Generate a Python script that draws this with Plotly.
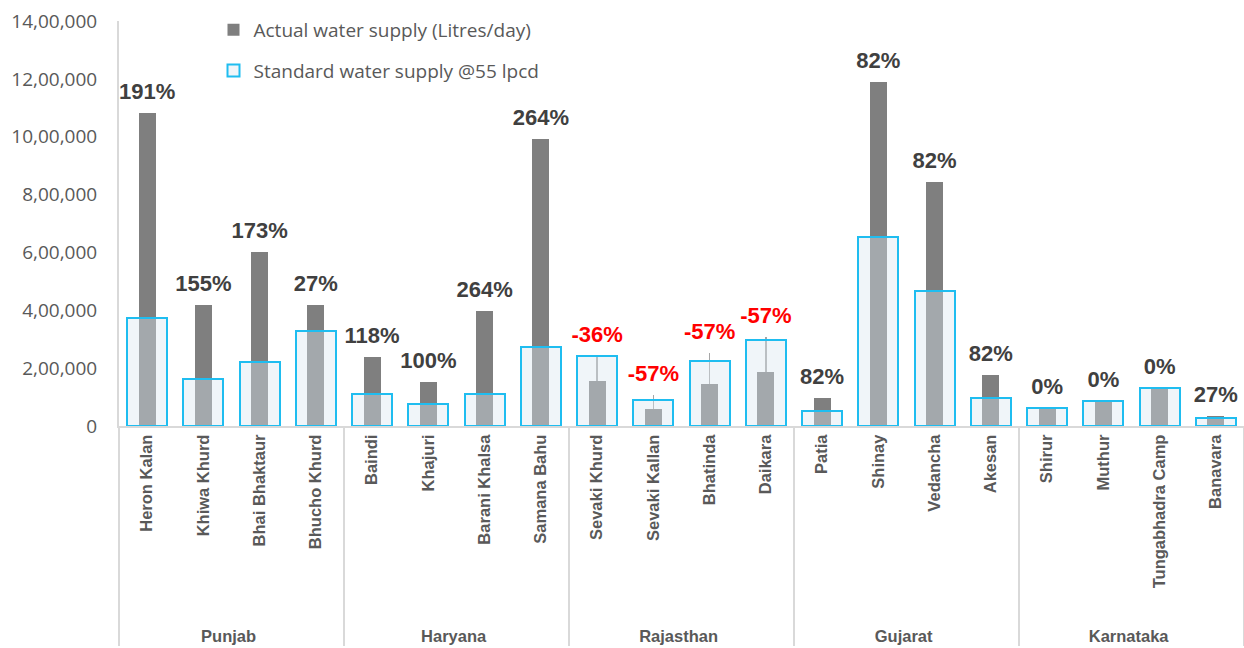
import plotly.graph_objects as go

# States and villages (the leading line break drops the state names below the village names)
states = ["<br>Punjab"] * 4 + ["<br>Haryana"] * 4 + ["<br>Rajasthan"] * 4 + ["<br>Gujarat"] * 4 + ["<br>Karnataka"] * 4
villages = [
    "Heron Kalan", "Khiwa Khurd", "Bhai Bhaktaur", "Bhucho Khurd",
    "Baindi", "Khajuri", "Barani Khalsa", "Samana Bahu",
    "Sevaki Khurd", "Sevaki Kallan", "Bhatinda", "Daikara",
    "Patia", "Shinay", "Vedancha", "Akesan",
    "Shirur", "Muthur", "Tungabhadra Camp", "Banavara",
]

# Litres/day
actual_supply = [
    1083000, 418000, 600000, 417000,
    238000, 152000, 397000, 993000,
    155000, 58000, 144000, 187000,
    97000, 1190000, 845000, 176000,
    62000, 85000, 131000, 34000,
]
standard_supply = [
    372000, 164000, 220000, 328000,
    109000, 76000, 109000, 272000,
    242000, 90000, 224000, 297000,
    53000, 655000, 466000, 97000,
    62000, 85000, 131000, 27000,
]
# upward range whiskers on the actual bars (Rajasthan only)
actual_range_plus = [
    0, 0, 0, 0,
    0, 0, 0, 0,
    87000, 49000, 110000, 121000,
    0, 0, 0, 0,
    0, 0, 0, 0,
]
gap_labels = [
    "191%", "155%", "173%", "27%",
    "118%", "100%", "264%", "264%",
    "-36%", "-57%", "-57%", "-57%",
    "82%", "82%", "82%", "82%",
    "0%", "0%", "0%", "27%",
]

y_tickvals = [0, 200000, 400000, 600000, 800000, 1000000, 1200000, 1400000]
y_ticktext = ["0", "2,00,000", "4,00,000", "6,00,000", "8,00,000", "10,00,000", "12,00,000", "14,00,000"]

x = [states, villages]
label_y = [max(a, s, a + p) for a, s, p in zip(actual_supply, standard_supply, actual_range_plus)]
label_colors = ["#ff0000" if t.startswith("-") else "#404040" for t in gap_labels]

fig = go.Figure()
fig.add_trace(go.Bar(
    x=x, y=actual_supply, name="Actual water supply (Litres/day)",
    width=0.3, marker=dict(color="#7f7f7f", line=dict(width=0)),
    error_y=dict(type="data", symmetric=False, array=actual_range_plus,
                 arrayminus=[0] * len(actual_supply), color="#a6a6a6",
                 thickness=1.5, width=0),
    legendgroup="a",
))
fig.add_trace(go.Bar(
    x=x, y=standard_supply, name="Standard water supply @55 lpcd",
    width=0.71, marker=dict(color="rgba(218,230,241,0.4)",
                            line=dict(color="#1fbdf0", width=2)),
    legendgroup="b",
))
fig.add_trace(go.Scatter(
    x=x, y=label_y, mode="markers+text", text=gap_labels, textposition="top center",
    marker=dict(size=12, opacity=0),
    textfont=dict(family="Liberation Sans", size=22, color=label_colors, weight="bold"),
    showlegend=False, hoverinfo="skip", cliponaxis=False,
))

fig.update_layout(
    width=1244, height=648,
    margin=dict(l=119, r=0, t=21, b=222),
    plot_bgcolor="white", paper_bgcolor="white",
    barmode="overlay", bargap=0,
    font=dict(family="Liberation Sans", color="#595959"),
    showlegend=True,
    legend=dict(x=0.084, y=1.025, xanchor="left", yanchor="top",
                font=dict(family="Open Sans", size=19, color="#595959"),
                tracegroupgap=13, bgcolor="rgba(0,0,0,0)",
                itemwidth=30),
)
fig.update_yaxes(
    range=[0, 1400000], tickvals=y_tickvals, ticktext=y_ticktext,
    showgrid=False, zeroline=False, showline=True, linecolor="#d9d9d9", linewidth=2,
    tickfont=dict(family="Open Sans", size=19, color="#595959"),
    ticks="", ticklabelstandoff=16,
)
fig.update_xaxes(
    type="multicategory", tickangle=-90, range=[-0.5, 19.5], autorange=False,
    showline=True, linecolor="#d9d9d9", linewidth=2,
    showdividers=True, dividercolor="#d9d9d9", dividerwidth=2,
    tickfont=dict(family="Liberation Sans", size=16.5, color="#595959", weight="bold"),
    showgrid=False, ticks="",
)

fig.write_html("out.html")
